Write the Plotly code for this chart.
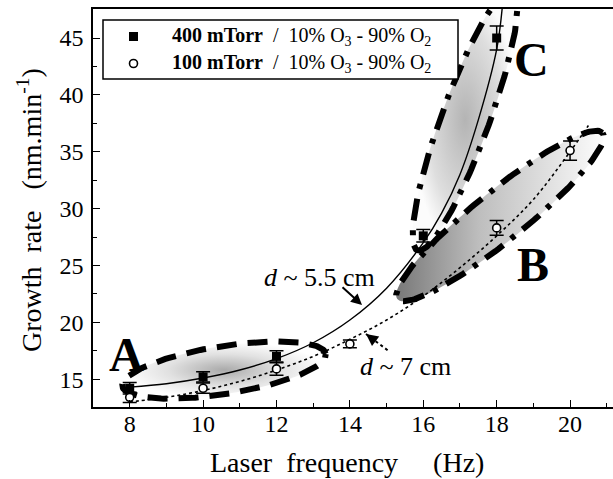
import numpy as np
import plotly.graph_objects as go

# ---------------- data ----------------
freq_400 = [8, 10, 12, 16, 18]
rate_400 = [14.2, 15.2, 17.0, 27.6, 45.0]
err_400 = [0.5, 0.45, 0.5, 0.55, 1.05]

freq_100 = [8, 10, 12, 14, 18, 20]
rate_100 = [13.4, 14.2, 15.9, 18.1, 28.3, 35.1]
err_100 = [0.45, 0.45, 0.55, 0.35, 0.65, 0.85]

# fitted guide curves
fit_400_x = [8, 9, 10, 11, 12, 13, 14, 15, 16, 16.5, 17, 17.5, 18, 18.15]
fit_400_y = [14.3, 14.6, 15.1, 15.8, 16.8, 18.2, 20.2, 23.0, 27.0, 29.6, 33.0, 37.8, 44.0, 47.6]
fit_100_x = [8, 9, 10, 11, 12, 13, 14, 15, 16, 17, 18, 19, 20, 20.5]
fit_100_y = [13.0, 13.4, 14.0, 14.8, 15.8, 17.0, 18.5, 20.2, 22.3, 24.8, 27.6, 30.8, 35.0, 37.3]

x_ticks = [8, 10, 12, 14, 16, 18, 20]
y_ticks = [15, 20, 25, 30, 35, 40, 45]

# ---------------- geometry ----------------
W, H = 613, 479
ML, MR, MT, MB = 93, 0, 9, 72
PW, PH = W - ML - MR, H - MT - MB
XR = [7.0, 21.17]
YR = [12.55, 47.55]
SX = PW / (XR[1] - XR[0])
SY = PH / (YR[1] - YR[0])

def px2data(px, py):
    return XR[0] + (px - ML) / SX, YR[1] - (py - MT) / SY

def px2paper(px, py):
    return (px - ML) / PW, (H - MB - py) / PH

def ellipse(cx, cy, a, b, ang, n=200):
    t = np.linspace(0, 2 * np.pi, n)
    th = np.deg2rad(ang)
    dx = a * np.cos(t) * np.cos(th) - b * np.sin(t) * np.sin(th)
    dy = a * np.cos(t) * np.sin(th) + b * np.sin(t) * np.cos(th)
    return cx + dx / SX, cy + dy / SY

SERIF = "Liberation Serif"
fig = go.Figure()

ellA = ellipse(10.57, 15.8, 103, 24, 9)
ellB = ellipse(18.09, 29.35, 132, 25, 39)
ellC = ellipse(17.14, 37.8, 139, 24, 70)

fig.add_trace(go.Scatter(x=ellA[0], y=ellA[1], mode="none", fill="toself",
                         fillgradient=dict(type="radial",
                                           colorscale=[[0, "rgb(170,170,170)"], [0.55, "rgb(225,225,225)"], [1, "rgb(255,255,255)"]]),
                         showlegend=False, hoverinfo="skip"))
fig.add_trace(go.Scatter(x=ellC[0], y=ellC[1], mode="none", fill="toself",
                         fillgradient=dict(type="radial",
                                           colorscale=[[0, "rgb(180,180,180)"], [0.7, "rgb(222,222,222)"], [1, "rgb(252,252,252)"]]),
                         showlegend=False, hoverinfo="skip"))
fig.add_trace(go.Scatter(x=ellB[0], y=ellB[1], mode="none", fill="toself",
                         fillgradient=dict(type="horizontal",
                                           colorscale=[[0, "rgb(120,120,120)"], [0.4, "rgb(190,190,190)"], [1, "rgb(252,252,252)"]]),
                         showlegend=False, hoverinfo="skip"))

# fit curves
fig.add_trace(go.Scatter(x=fit_400_x, y=fit_400_y, mode="lines", line=dict(color="black", width=1.4, shape="spline"),
                         showlegend=False, hoverinfo="skip"))
fig.add_trace(go.Scatter(x=fit_100_x, y=fit_100_y, mode="lines", line=dict(color="black", width=1.6, dash="dot", shape="spline"),
                         showlegend=False, hoverinfo="skip"))

# ellipse outlines
fig.add_trace(go.Scatter(x=ellA[0], y=ellA[1], mode="lines",
                         line=dict(color="black", width=6, dash="20px,11px"), showlegend=False, hoverinfo="skip"))
for e in (ellB, ellC):
    fig.add_trace(go.Scatter(x=e[0], y=e[1], mode="lines",
                             line=dict(color="black", width=6, dash="22px,10px,5px,10px"), showlegend=False, hoverinfo="skip"))

# data
fig.add_trace(go.Scatter(x=freq_400, y=rate_400, mode="markers",
                         marker=dict(symbol="square", size=9, color="black"),
                         error_y=dict(type="data", array=err_400, color="black", thickness=1.5, width=7),
                         cliponaxis=False, showlegend=False))
fig.add_trace(go.Scatter(x=freq_100, y=rate_100, mode="markers",
                         marker=dict(symbol="circle", size=8, color="white", line=dict(color="black", width=1.6)),
                         error_y=dict(type="data", array=err_100, color="black", thickness=1.5, width=7),
                         cliponaxis=False, showlegend=False))

shapes = []
annotations = []

# legend box
x0, y0 = px2paper(103, 20)
x1, y1 = px2paper(458, 79)
shapes.append(dict(type="rect", xref="paper", yref="paper", x0=x0, y0=y1, x1=x1, y1=y0,
                   line=dict(color="black", width=1.5), fillcolor="white", layer="above"))
sx0, sy0 = px2paper(129, 32)
sx1, sy1 = px2paper(138, 41)
shapes.append(dict(type="rect", xref="paper", yref="paper", x0=sx0, y0=sy1, x1=sx1, y1=sy0,
                   line=dict(color="black", width=0), fillcolor="black", layer="above"))
cx0, cy0 = px2paper(129.5, 59.5)
cx1, cy1 = px2paper(137.5, 67.5)
shapes.append(dict(type="circle", xref="paper", yref="paper", x0=cx0, y0=cy1, x1=cx1, y1=cy0,
                   line=dict(color="black", width=1.6), fillcolor="white", layer="above"))
nb = "\u00a0"
leg_texts = ["<b>400 mTorr</b>" + nb * 2 + "/" + nb * 2 + "10% O<sub>3</sub> - 90% O<sub>2</sub>",
             "<b>100 mTorr</b>" + nb * 2 + "/" + nb * 2 + "10% O<sub>3</sub> - 90% O<sub>2</sub>"]
for txt, py in zip(leg_texts, [36, 63]):
    lx, ly = px2paper(170, py)
    annotations.append(dict(xref="paper", yref="paper", x=lx, y=ly, text=txt, showarrow=False,
                            xanchor="left", yanchor="middle", font=dict(family=SERIF, size=20, color="black")))

# axis titles
tx, ty = px2paper(347, 462)
annotations.append(dict(xref="paper", yref="paper", x=tx, y=ty, text="Laser" + nb * 2 + "frequency" + nb * 5 + "(Hz)",
                        showarrow=False, xanchor="center", yanchor="middle",
                        font=dict(family=SERIF, size=28, color="black")))
tx, ty = px2paper(29, 210)
annotations.append(dict(xref="paper", yref="paper", x=tx, y=ty,
                        text="Growth" + nb * 2 + "rate" + nb * 3 + "(nm.min<sup>-1</sup>)",
                        showarrow=False, xanchor="center", yanchor="middle", textangle=-90,
                        font=dict(family=SERIF, size=28, color="black")))

# region labels
for lab, (px, py) in zip(["A", "B", "C"], [(126, 354), (533, 264), (531, 59)]):
    lx, ly = px2data(px, py)
    annotations.append(dict(x=lx, y=ly, text="<b>" + lab + "</b>", showarrow=False,
                            xanchor="center", yanchor="middle",
                            font=dict(family=SERIF, size=48, color="black")))

# d labels
lx, ly = px2data(319, 277)
annotations.append(dict(x=lx, y=ly, text="<i>d</i> ~ 5.5 cm", showarrow=False, xanchor="center", yanchor="middle",
                        font=dict(family=SERIF, size=26, color="black")))
lx, ly = px2data(405, 366)
annotations.append(dict(x=lx, y=ly, text="<i>d</i> ~ 7 cm", showarrow=False, xanchor="center", yanchor="middle",
                        font=dict(family=SERIF, size=26, color="black")))

# solid arrow
ax_, ay_ = px2data(362, 305)
annotations.append(dict(x=ax_, y=ay_, ax=-21, ay=-19, text="", showarrow=True, arrowhead=2,
                        arrowsize=1.1, arrowwidth=2, arrowcolor="black"))
# dotted arrow
hx, hy = px2data(366, 334)
tx_, ty_ = px2data(390, 352)
shapes.append(dict(type="line", x0=hx, y0=hy, x1=tx_, y1=ty_, line=dict(color="black", width=2, dash="dot")))
annotations.append(dict(x=hx, y=hy, ax=6, ay=4.5, text="", showarrow=True, arrowhead=2,
                        arrowsize=1.6, arrowwidth=1.5, arrowcolor="black"))

fig.update_layout(
    width=W, height=H,
    margin=dict(l=ML, r=MR, t=MT, b=MB),
    paper_bgcolor="white", plot_bgcolor="white",
    shapes=shapes, annotations=annotations,
    showlegend=False,
)
fig.update_xaxes(range=XR, tickvals=x_ticks, ticks="inside", ticklen=7, tickwidth=1.3,
                 tickcolor="black", showline=True, linecolor="black", linewidth=1.5, mirror=True,
                 showgrid=False, zeroline=False,
                 minor=dict(dtick=1, tick0=7, ticks="inside", ticklen=4, tickcolor="black", tickwidth=1.2),
                 tickfont=dict(family=SERIF, size=24, color="black"), ticklabelstandoff=-6)
fig.update_yaxes(range=YR, tickvals=y_ticks, ticks="inside", ticklen=7, tickwidth=1.3,
                 tickcolor="black", showline=True, linecolor="black", linewidth=1.5, mirror=False,
                 showgrid=False, zeroline=False,
                 minor=dict(dtick=2.5, tick0=12.5, ticks="inside", ticklen=4, tickcolor="black", tickwidth=1.2),
                 tickfont=dict(family=SERIF, size=24, color="black"), ticklabelstandoff=3)

fig.write_html("out.html")
